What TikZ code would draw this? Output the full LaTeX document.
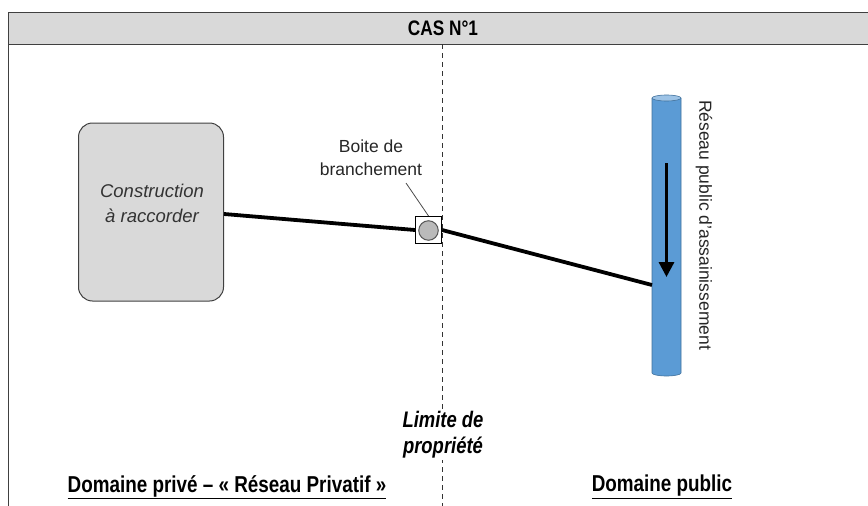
\documentclass[tikz,border=0pt]{standalone}
\usepackage{fontspec}
\setmainfont{Liberation Sans}
\newfontfamily\narrowfont[FakeStretch=0.82]{Liberation Sans}
\usetikzlibrary{arrows.meta,shapes.geometric}
\definecolor{boxgray}{HTML}{D9D9D9}
\definecolor{pipeblue}{HTML}{5B9BD5}
\definecolor{pipeedge}{HTML}{41719C}
\definecolor{pipetop}{HTML}{9DC3E6}
\tikzset{
  pipeline/.style={line width=3.8pt, black},
  lbl/.style={align=center, inner sep=0pt},
  domlabel/.style={font=\narrowfont\bfseries\fontsize{23}{26}\selectfont, inner sep=0pt},
}
\begin{document}
\begin{tikzpicture}[x=1pt,y=-1pt]
\useasboundingbox (0,0) rectangle (868,506);
% frame
\draw[line width=0.8pt, draw=black!75] (8,506) -- (8,12);
\node[draw=black!75, line width=0.8pt, fill=boxgray, minimum width=870pt, minimum height=32pt, anchor=north west, inner sep=0pt] (head) at (8,12) {};
\node[font=\narrowfont\bfseries\fontsize{21}{24}\selectfont] (title) at (443,28.5) {CAS N°1};
% property limit
\coordinate (ltop) at (442,44);
\coordinate (lbot) at (442,506);
\draw[line width=0.8pt, dash pattern=on 5pt off 4pt, black!80] (ltop) -- (lbot);
% construction
\node[draw=black!75, line width=1pt, fill=boxgray, rounded corners=14pt, minimum width=145pt, minimum height=178pt, inner sep=0pt] (cons) at (151,212) {};
\node[lbl, font=\itshape\fontsize{18.5}{25}\selectfont, text=black!80] (constxt) at (152,203) {Construction\\à raccorder};
% box
\node[draw=black, line width=1.1pt, fill=white, minimum width=26pt, minimum height=27pt, inner sep=0pt] (bb) at (428.5,230) {};
\node[circle, draw=black!65, line width=1pt, fill=black!27, minimum size=19.5pt, inner sep=0pt] (bbc) at (428.5,230.5) {};
\node[lbl, text=black!85, font=\fontsize{17.5}{23}\selectfont] (bbl) at (371,158) {Boite de\\branchement};
\coordinate (lead1) at (406,183);
\draw[line width=0.8pt, black!70] (lead1) -- (bb.north);
% pipe
\fill[pipeblue] (652,98) rectangle (681,373);
\draw[pipeedge, line width=0.6pt, fill=pipeblue] (652,98) -- (652,373) arc[start angle=180,end angle=360,x radius=14.5pt,y radius=3pt] -- (681,98);
\draw[pipeedge, line width=0.6pt, fill=pipetop] (666.5,98) ellipse[x radius=14.5pt, y radius=3pt];
\coordinate (pipejoin) at (652,285);
\coordinate (a1) at (666.5,163);
\coordinate (a2) at (666.5,277);
\draw[line width=3.2pt, -{Triangle[length=15pt,width=15pt]}] (a1) -- (a2);
\node[rotate=-90, font=\fontsize{17.5}{20}\selectfont, text=black!85, inner sep=0pt] (rplabel) at (704,225) {Réseau public d’assainissement};
% connections
\draw[pipeline] (cons.east |- 0,214) -- (bb.west);
\draw[pipeline] (bb.east) -- (pipejoin);
% bottom labels
\node[lbl, font=\narrowfont\bfseries\itshape\fontsize{22.5}{26}\selectfont, fill=white, inner ysep=2pt] (lim) at (443,434.5) {Limite de\\propriété};
\node[domlabel] (priv) at (227,487) {\underline{Domaine privé – « Réseau Privatif »}};
\node[domlabel] (pub) at (662,487) {\underline{Domaine public}};
\end{tikzpicture}
\end{document}
